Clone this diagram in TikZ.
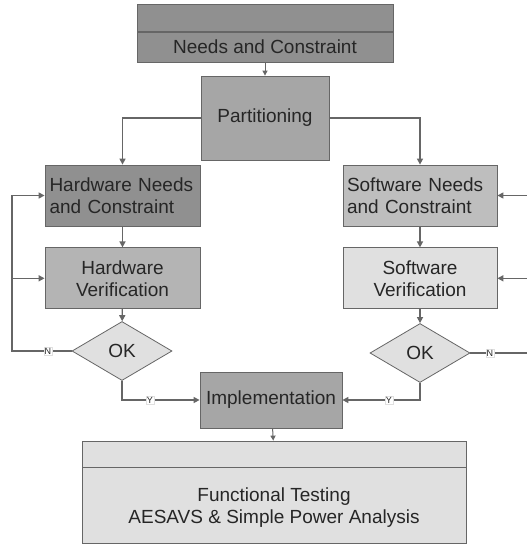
\documentclass[tikz,border=0pt]{standalone}
\usepackage{fontspec}
\setmainfont{Liberation Sans}
\usetikzlibrary{positioning,arrows.meta,shapes.geometric}
\definecolor{cline}{HTML}{666666}
\definecolor{ctext}{HTML}{262626}
\definecolor{gdark}{HTML}{909090}
\definecolor{gmid}{HTML}{A6A6A6}
\definecolor{gsoft}{HTML}{B4B4B4}
\definecolor{glite}{HTML}{BEBEBE}
\definecolor{gpale}{HTML}{E0E0E0}
\tikzset{
  blk/.style={rectangle, draw=cline, line width=0.8pt, text=ctext, inner sep=0pt,
              font=\fontsize{19}{22}\selectfont, align=center},
  okbox/.style={diamond, draw=cline, line width=0.8pt, fill=gpale, text=ctext, inner sep=0pt,
                minimum width=100pt, minimum height=59pt, font=\fontsize{19}{22}\selectfont},
  lbl/.style={fill=white, draw=gpale, line width=0.3pt, inner sep=0.8pt,
              font=\fontsize{9}{10}\selectfont, text=ctext},
  flow/.style={-{Triangle[length=6pt,width=6pt]}, line width=1.4pt, draw=cline},
  wire/.style={line width=1.2pt, draw=cline}
}
\begin{document}
\begin{tikzpicture}[x=1pt,y=-1pt]
\clip (0,0) rectangle (527,544);
\fill[white] (0,0) rectangle (527,544);

\node[blk, fill=gdark, minimum width=256pt, minimum height=30pt] (needs) at (265,47) {Needs and Constraint};
\node[blk, fill=gdark, minimum width=256pt, minimum height=27pt, above=0pt of needs] (needshead) {};
\node[blk, fill=gmid, minimum width=128pt, minimum height=84pt] (part) at (265,118) {\raisebox{-2pt}{Partitioning}};

\node[blk, fill=gdark, minimum width=155pt, minimum height=61pt, text width=146pt, align=left] (hwneeds) at (122.5,195.5) {Hardware Needs\\and Constraint};
\node[blk, fill=gsoft, minimum width=155pt, minimum height=61pt, below=21pt of hwneeds] (hwver) {Hardware\\Verification};
\node[okbox] (hwok) at (122,351) {OK};

\node[blk, fill=glite, minimum width=154pt, minimum height=61pt, text width=146pt, align=left] (swneeds) at (420,195.5) {Software Needs\\and Constraint};
\node[blk, fill=gpale, minimum width=154pt, minimum height=61pt, below=21pt of swneeds] (swver) {Software\\Verification};
\node[okbox] (swok) at (420,353) {OK};

\node[blk, fill=gmid, minimum width=142pt, minimum height=56pt] (impl) at (271,400) {\raisebox{-2pt}{Implementation}};

\node[blk, fill=gpale, minimum width=384pt, minimum height=26pt] (funchead) at (274,454) {};
\node[blk, fill=gpale, minimum width=384pt, minimum height=76pt, below=0pt of funchead, text depth=0pt] (func) {Functional Testing\\AESAVS \& Simple Power Analysis};

\coordinate (lloop) at (12,351);
\coordinate (rloop) at (535,353);

\draw[flow, line width=1pt, -{Triangle[length=5pt,width=5pt]}] (needs) -- (part);
\draw[flow] (part.west) -| (hwneeds.north);
\draw[flow] (part.east) -| (swneeds.north);
\draw[flow] (hwneeds) -- (hwver);
\draw[flow] (hwver) -- (hwok);
\draw[flow] (swneeds) -- (swver);
\draw[flow] (swver) -- (swok);

\draw[flow] (hwok.west) -- node[lbl, pos=0.4] {N} (lloop) |- (hwneeds.west);
\draw[flow] (lloop |- hwver.west) -- (hwver.west);
\draw[flow] (swok.east) -- node[lbl, pos=0.3] {N} (rloop) |- (swneeds.east);
\draw[flow] (rloop |- swver.east) -- (swver.east);

\draw[flow] (hwok.south) |- node[lbl, pos=0.68] {Y} (impl.west);
\draw[flow] (swok.south) |- node[lbl, pos=0.7] {Y} (impl.east);
\draw[flow, line width=1pt, -{Triangle[length=5pt,width=5pt]}] (impl) -- (funchead);
\end{tikzpicture}
\end{document}
